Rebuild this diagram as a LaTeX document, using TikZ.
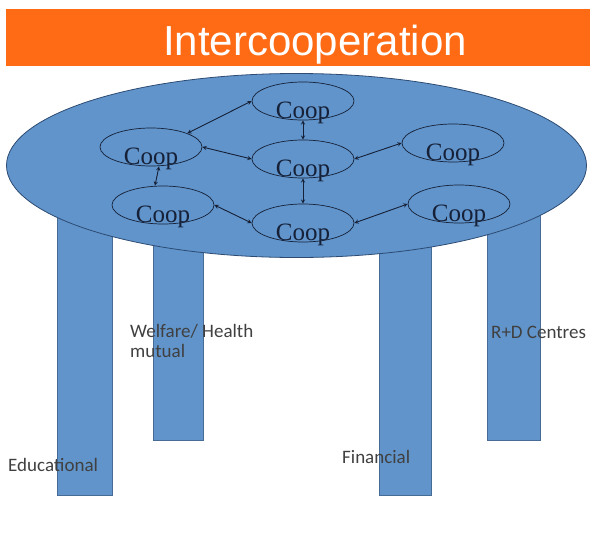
\documentclass[tikz,border=0pt]{standalone}
\usepackage{fontspec}
\usetikzlibrary{shapes.geometric, arrows, positioning}
\newfontfamily\titlefont{Liberation Sans}
\newfontfamily\coopfont{Liberation Serif}
\newfontfamily\legfont{Carlito}
\definecolor{colororange}{RGB}{255, 106, 20}
\definecolor{colorblue}{RGB}{96, 148, 203}
\definecolor{colorlegline}{RGB}{70, 108, 150}
\definecolor{colortopline}{RGB}{45, 75, 115}
\definecolor{colorcoop}{RGB}{22, 32, 55}
\definecolor{colorlabel}{RGB}{64, 64, 64}
\tikzstyle{titlebar} = [rectangle, fill=colororange, draw=none]
\tikzstyle{tabletop} = [ellipse, minimum width=580pt, minimum height=184pt, inner sep=0pt, fill=colorblue, draw=colortopline, line width=0.8pt]
\tikzstyle{leg} = [fill=colorblue, draw=colorlegline, line width=0.8pt]
\tikzstyle{coop} = [ellipse, minimum width=102pt, minimum height=38pt, inner xsep=0pt, inner ysep=-4pt, text height=34pt, text depth=0pt, draw=colorcoop, line width=0.7pt, text=colorcoop, font=\coopfont\fontsize{25}{25}\selectfont]
\tikzstyle{leglabel} = [anchor=base west, inner sep=0pt, align=left, text=colorlabel, font=\legfont\fontsize{19}{20}\selectfont]
\tikzstyle{arrow} = [colorcoop, line width=0.9pt, <->, >=stealth]

\begin{document}
\begin{tikzpicture}[x=1pt, y=-1pt]
\useasboundingbox (0,0) rectangle (590,539);

% Title
\fill [titlebar] (6,9) rectangle (590,66);
\node (title) [anchor=base, text=white, font=\titlefont\fontsize{42}{42}\selectfont] at (315,55) {Intercooperation};

% Legs
\filldraw [leg] (57,200) rectangle (112,495);
\filldraw [leg] (153,200) rectangle (203,440);
\filldraw [leg] (379,200) rectangle (431,495);
\filldraw [leg] (487,200) rectangle (540,440);

% Table top
\node (table) [tabletop] at (296.5,165.5) {};

% Coops
\node (coopT) [coop] at (303,101) {Coop};
\node (coopL) [coop] at (151,147) {Coop};
\node (coopC) [coop] at (303,159) {Coop};
\node (coopR) [coop] at (453,143) {Coop};
\node (coopLB) [coop] at (163,205) {Coop};
\node (coopB) [coop] at (303,223) {Coop};
\node (coopRB) [coop] at (459,204) {Coop};

% Arrows
\draw [arrow] (coopL.north east) -- (coopT.west);
\draw [arrow] (coopL.east) -- (coopC.west);
\draw [arrow] (coopT.south) -- (coopC.north);
\draw [arrow] (coopC.east) -- (coopR.west);
\draw [arrow] ([xshift=8pt]coopL.south) -- ([xshift=-8pt]coopLB.north);
\draw [arrow] (coopC.south) -- (coopB.north);
\draw [arrow] (coopLB.east) -- (coopB.west);
\draw [arrow] (coopB.east) -- (coopRB.west);

% Leg labels (base is the last line)
\node (welfare) [leglabel] at (130,357) {Welfare/ Health\\mutual};
\node (rd) [leglabel] at (491,338) {R+D Centres};
\node (financial) [leglabel] at (342,463) {Financial};
\node (educational) [leglabel] at (8,471) {Educational};

\end{tikzpicture}
\end{document}
